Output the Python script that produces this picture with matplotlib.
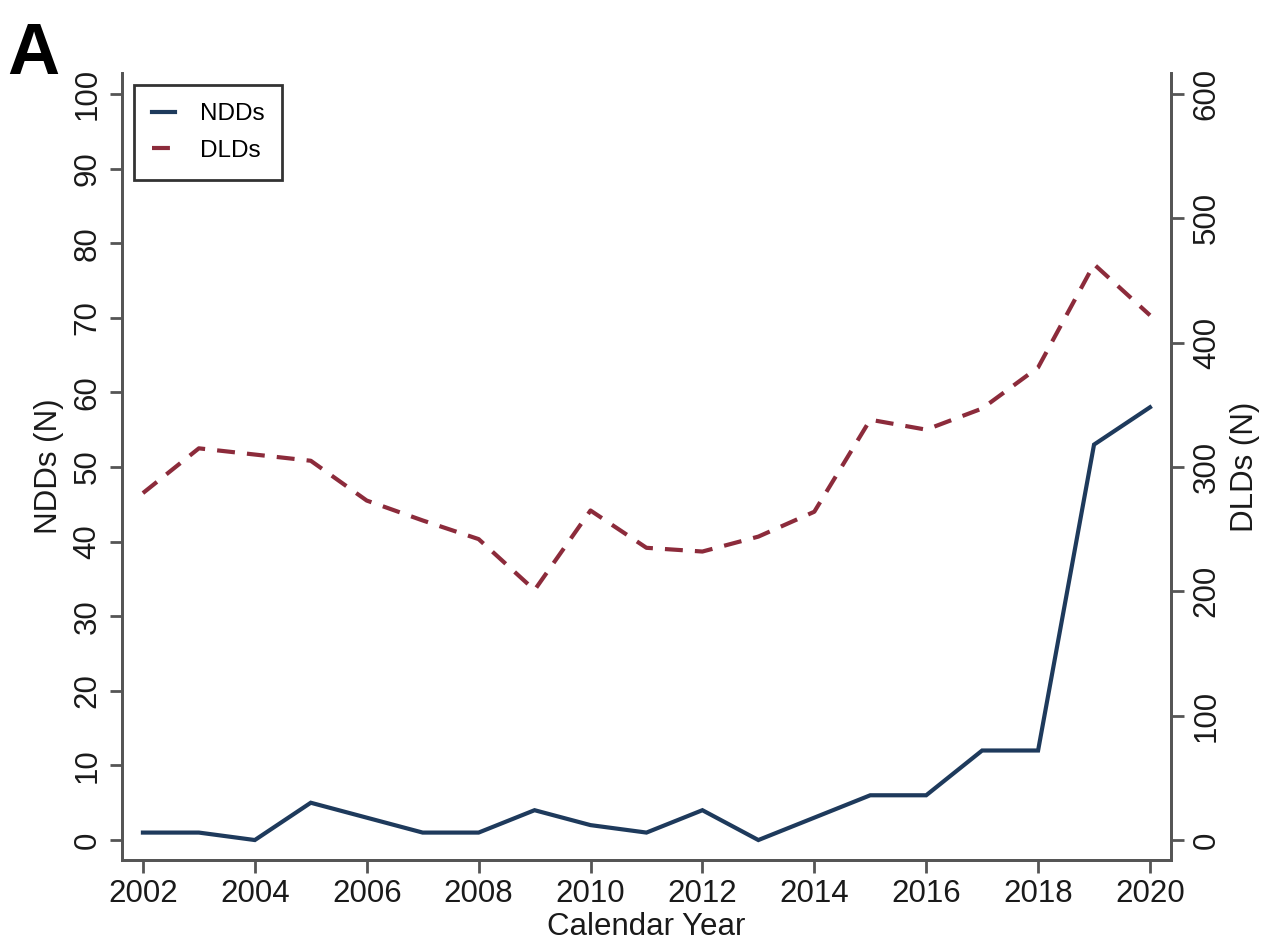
import matplotlib
matplotlib.use("Agg")
import matplotlib.pyplot as plt

years = [2002, 2003, 2004, 2005, 2006, 2007, 2008, 2009, 2010, 2011,
         2012, 2013, 2014, 2015, 2016, 2017, 2018, 2019, 2020]
ndds = [1, 1, 0, 5, 3, 1, 1, 4, 2, 1, 4, 0, 3, 6, 6, 12, 12, 53, 58]
dlds = [279, 315, 310, 305, 273, 257, 242, 201, 265, 235,
        232, 244, 264, 338, 330, 347, 380, 463, 422]

x_ticks = list(range(2002, 2021, 2))
left_ticks = list(range(0, 101, 10))
right_ticks = list(range(0, 601, 100))

plt.rcParams['font.family'] = ['Liberation Sans', 'DejaVu Sans']

axis_col = "#555555"
txt_col = "#1a1a1a"
ndd_col = "#1e3a5c"
dld_col = "#8c2b3b"

fig = plt.figure(figsize=(12.81, 9.52), dpi=100)
ax = fig.add_axes([0.0952, 0.0966, 0.9141 - 0.0952, 0.9233 - 0.0966])
ax2 = ax.twinx()

l1, = ax.plot(years, ndds, color=ndd_col, lw=3, solid_joinstyle='miter', label="NDDs")
l2, = ax2.plot(years, dlds, color=dld_col, lw=3, linestyle=(0, (4.3, 2.9)), label="DLDs")

ax.set_xlim(2001.625, 2020.375)
ax.set_ylim(-2.68, 102.8)
ax2.set_ylim(-2.68 * 6, 102.8 * 6)

for a in (ax, ax2):
    a.spines['top'].set_visible(False)
    for s in ('left', 'right', 'bottom'):
        a.spines[s].set_color(axis_col)
        a.spines[s].set_linewidth(2)

ax.set_xticks(x_ticks)
ax.set_xticklabels([str(v) for v in x_ticks], fontsize=22.5)
ax.set_yticks(left_ticks)
ax.set_yticklabels([str(v) for v in left_ticks], fontsize=22.5, rotation=90, va='center')
ax2.set_yticks(right_ticks)
ax2.set_yticklabels([str(v) for v in right_ticks], fontsize=22.5, rotation=90, va='center')

ax.tick_params(axis='both', length=9, width=2, color=axis_col, labelcolor=txt_col, pad=5)
ax2.tick_params(axis='y', length=9, width=2, color=axis_col, labelcolor=txt_col, pad=6)

ax.set_xlabel("Calendar Year", fontsize=22.5, color=txt_col, labelpad=2)
ax.set_ylabel("NDDs (N)", fontsize=22.5, color=txt_col, labelpad=6)
ax2.set_ylabel("DLDs (N)", fontsize=22.5, color=txt_col, labelpad=6)

leg = ax.legend(handles=[l1, l2], loc='upper left', bbox_to_anchor=(0.0114, 0.985),
                borderaxespad=0, fontsize=17.5, frameon=True, fancybox=False,
                handlelength=0.95, borderpad=0.75, labelspacing=0.6, handletextpad=1.0)
leg.get_frame().set_edgecolor("#333333")
leg.get_frame().set_linewidth(2)
leg.get_frame().set_alpha(1)

fig.text(0.006, 0.978, "A", fontsize=52, fontweight='bold', family='Liberation Sans',
         va='top', ha='left')

fig.savefig("out.png", dpi=100, facecolor='white')
